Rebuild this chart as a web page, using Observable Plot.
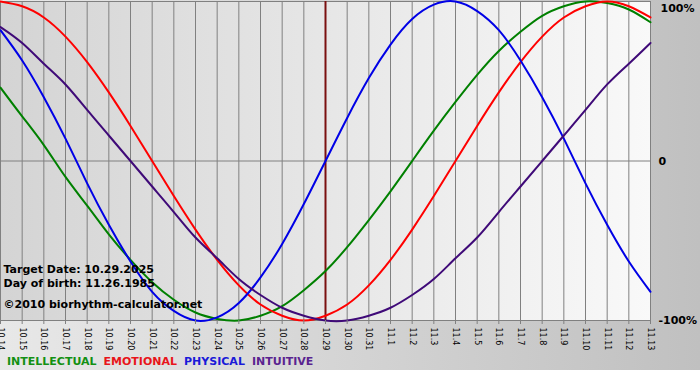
<!DOCTYPE html>
<html><head><meta charset="utf-8">
<script src="https://cdn.jsdelivr.net/npm/d3@7"></script>
<script src="https://cdn.jsdelivr.net/npm/@observablehq/plot@0.6"></script>
<style>
body{margin:0;background:#fff;}
#wrap{position:relative;width:700px;height:370px;background:linear-gradient(to right,#e8e8e8,#c0c0c0);font-family:"DejaVu Sans",sans-serif;overflow:hidden}
#chart svg{display:block}
#legend{position:absolute;left:7px;top:354px;font-size:11px;font-weight:bold;white-space:nowrap;line-height:16px}
#legend span{margin-right:7px}
</style></head><body>
<div id="wrap"><div id="chart"></div><div id="legend"></div></div>
<script>
const days = ["10.14","10.15","10.16","10.17","10.18","10.19","10.20","10.21","10.22","10.23","10.24","10.25","10.26","10.27","10.28","10.29","10.30","10.31","11.1","11.2","11.3","11.4","11.5","11.6","11.7","11.8","11.9","11.10","11.11","11.12","11.13"];
const intellectual = [46,28,10,-10,-28,-46,-62,-76,-87,-95,-99,-100,-97,-91,-81,-69,-54,-37,-19,0,19,37,54,69,81,91,97,100,99,95,87];
const emotional = [100,97,90,78,62,43,22,0,-22,-43,-62,-78,-90,-97,-100,-97,-90,-78,-62,-43,-22,0,22,43,62,78,90,97,100,97,90];
const physical = [82,63,40,14,-14,-40,-63,-82,-94,-100,-98,-89,-73,-52,-27,0,27,52,73,89,98,100,94,82,63,40,14,-14,-40,-63,-82];
const intuitive = [84,74,61,48,32,16,0,-16,-32,-48,-61,-74,-84,-92,-97,-100,-100,-97,-92,-84,-74,-61,-48,-32,-16,0,16,32,48,61,74];
const seriesNames = ["INTELLECTUAL","EMOTIONAL","PHYSICAL","INTUITIVE"];
const lineColors = ["#008000","#ff0000","#0000e6","#3f0a78"];
const legendColors = ["#139013","#e8141a","#1a1ad8","#5a2490"];
const targetDay = "10.29";
const yTickValues = [100, 0, -100];
const infoLines = ["Target Date: 10.29.2025", "Day of birth: 11.26.1985", "\u00a92010 biorhythm-calculator.net"];

const seriesValues = [intellectual, emotional, physical, intuitive];
const rows = seriesNames.flatMap((name, s) => days.map((day, i) => ({day, v: seriesValues[s][i], name})));

const gradDefs = () => {
  const defs = d3.create("svg:defs");
  const lg = defs.append("linearGradient").attr("id", "plotbg").attr("x1", 0).attr("x2", 1).attr("y1", 0).attr("y2", 0);
  lg.append("stop").attr("offset", 0).attr("stop-color", "#d4d4d4");
  lg.append("stop").attr("offset", 1).attr("stop-color", "#f9f9f9");
  return defs.node();
};
const fmt = d => d === 0 ? "0" : d + "%";

const chart = Plot.plot({
  width: 700, height: 350,
  marginTop: 1, marginBottom: 30, marginLeft: 0, marginRight: 50,
  x: {type: "point", domain: days, padding: 0, round: false},
  y: {domain: [-100, 100]},
  color: {domain: seriesNames, range: lineColors},
  style: {fontFamily: "DejaVu Sans", fontSize: "8px", background: "transparent", overflow: "visible"},
  marks: [
    gradDefs,
    Plot.frame({fill: "url(#plotbg)"}),
    Plot.ruleX(days, {stroke: "#808080", strokeOpacity: 1}),
    Plot.ruleY([0], {stroke: "#808080", strokeOpacity: 1}),
    Plot.frame({stroke: "#808080"}),
    Plot.ruleX([targetDay], {stroke: "#7a1010", strokeWidth: 2}),
    Plot.line(rows, {x: "day", y: "v", z: "name", stroke: "name", strokeWidth: 2, curve: "natural"}),
    Plot.axisX({tickRotate: 90, tickSize: 4, tickPadding: 3, stroke: "#808080", fill: "#000", label: null}),
    Plot.axisY({ticks: yTickValues.slice(1), anchor: "right", tickSize: 0, tickPadding: 8, tickFormat: fmt, fontSize: 11, fontWeight: "bold", fill: "#000", label: null, textAnchor: "start"}),
    Plot.axisY({ticks: yTickValues.slice(0, 1), anchor: "right", tickSize: 0, tickPadding: 10, dy: 7, tickFormat: fmt, fontSize: 11, fontWeight: "bold", fill: "#000", label: null, textAnchor: "start"}),
    Plot.text([infoLines[0]], {frameAnchor: "bottom-left", dx: 3, dy: -48, textAnchor: "start", fontSize: 11, fontWeight: "bold", fill: "#000"}),
    Plot.text([infoLines[1]], {frameAnchor: "bottom-left", dx: 3, dy: -34, textAnchor: "start", fontSize: 11, fontWeight: "bold", fill: "#000"}),
    Plot.text([infoLines[2]], {frameAnchor: "bottom-left", dx: 3, dy: -13, textAnchor: "start", fontSize: 11, fontWeight: "bold", fill: "#000"})
  ]
});
document.getElementById("chart").append(chart);
const legend = document.getElementById("legend");
seriesNames.forEach((n, i) => {
  const s = document.createElement("span");
  s.textContent = n;
  s.style.color = legendColors[i];
  legend.append(s);
});
</script>
</body></html>
